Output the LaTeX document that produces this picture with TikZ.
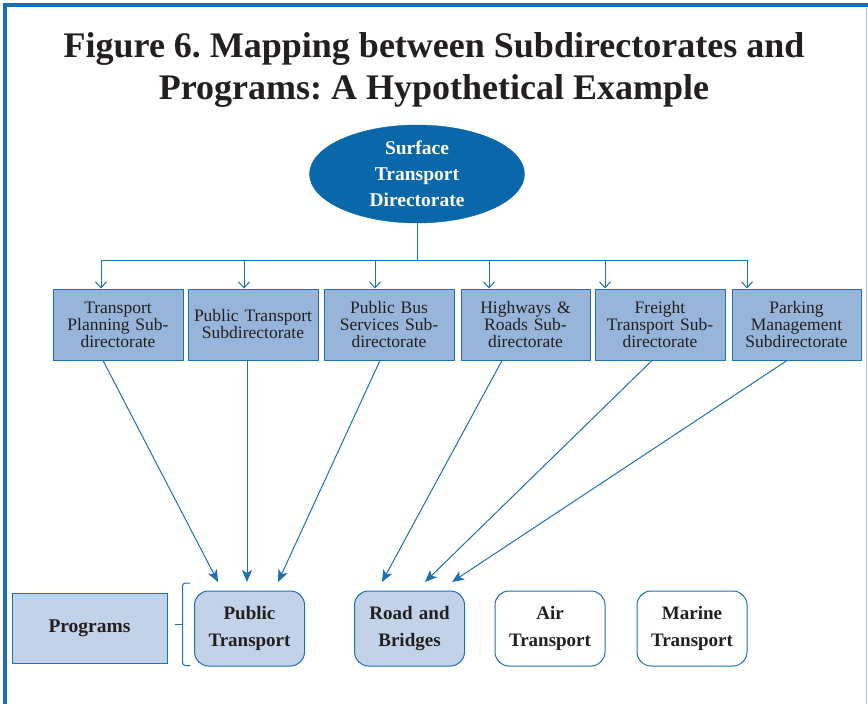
\documentclass[tikz,border=0pt]{standalone}
\usepackage{fontspec}
\setmainfont{Liberation Serif}
\newfontfamily\titlefont{Liberation Serif}
\usetikzlibrary{shapes.geometric,arrows.meta,calc}
\definecolor{frameblue}{HTML}{1A6FB0}
\definecolor{lineblue}{HTML}{1D70B2}
\definecolor{darkblue}{HTML}{0A68AA}
\definecolor{boxfill}{HTML}{97B5DA}
\definecolor{progfill}{HTML}{C2D2E8}
\definecolor{txt}{HTML}{231F20}
\definecolor{rightedge}{HTML}{A9C1D9}
\tikzset{
  subbox/.style={draw=lineblue, line width=1pt, fill=boxfill, minimum width=130pt, minimum height=71pt, text width=128pt, align=center, font=\fontsize{17.5}{17}\selectfont, text=txt, inner sep=0pt},
  progbox/.style={draw=lineblue, line width=1pt, rounded corners=14pt, minimum width=110pt, minimum height=75pt, text width=104pt, align=center, font=\fontsize{19}{27}\selectfont\bfseries, text=txt, inner sep=0pt},
  conn/.style={draw=lineblue, line width=1pt},
  downarr/.style={conn, -{Straight Barb[length=6pt,width=11pt,line width=1pt]}},
  maparr/.style={conn, -{Stealth[length=12pt,width=10pt,inset=3pt]}}
}
\frenchspacing
\begin{document}
\begin{tikzpicture}[x=1pt,y=-1pt]
\useasboundingbox (0,0) rectangle (868,704);
% frame
\draw[frameblue, line width=3.5pt] (5,704) -- (5,5) -- (868,5);
\draw[rightedge, line width=1.5pt] (866.5,8) -- (866.5,704);
% title
\node[text=txt, align=center, font=\titlefont\fontsize{36}{42}\selectfont\bfseries] (title) at (434,70) {Figure 6. Mapping between Subdirectorates and\\Programs: A Hypothetical Example};
% top directorate
\node[ellipse, fill=darkblue, draw=darkblue, minimum width=215pt, minimum height=98pt, inner sep=0pt, text=white, align=center, font=\fontsize{19.5}{26}\selectfont\bfseries] (dir) at (417,174) {Surface\\Transport\\Directorate};
% subdirectorates
\node[subbox] (s1) at (118,324.5) {Transport\\Planning Sub-\\directorate};
\node[subbox] (s2) at (253,324.5) {Public Transport\\Subdirectorate};
\node[subbox] (s3) at (389,324.5) {Public Bus\\Services Sub-\\directorate};
\node[subbox, minimum width=129pt] (s4) at (525.5,324.5) {Highways \&\\Roads Sub-\\directorate};
\node[subbox] (s5) at (660,324.5) {Freight\\Transport Sub-\\directorate};
\node[subbox, minimum width=129pt] (s6) at (796.5,324.5) {Parking\\Management\\Subdirectorate};
% bus
\coordinate (bus) at (417,260);
\coordinate (b1) at (101,260);
\coordinate (b2) at (244,260);
\coordinate (b3) at (375,260);
\coordinate (b4) at (489,260);
\coordinate (b5) at (605,260);
\coordinate (b6) at (747,260);
\draw[conn] (dir.south) -- (bus);
\draw[conn] (b1) -- (b6);
\draw[downarr] (b1) -- (b1 |- s1.north);
\draw[downarr] (b2) -- (b2 |- s2.north);
\draw[downarr] (b3) -- (b3 |- s3.north);
\draw[downarr] (b4) -- (b4 |- s4.north);
\draw[downarr] (b5) -- (b5 |- s5.north);
\draw[downarr] (b6) -- (b6 |- s6.north);
% programs
\node[draw=lineblue, line width=1pt, fill=progfill, minimum width=155pt, minimum height=70pt, inner sep=0pt, text=txt, font=\fontsize{19.5}{24}\selectfont\bfseries] (lab) at (89.5,628) {Programs};
\node[progbox, fill=progfill] (p1) at (249.5,628.5) {Public\\Transport};
\node[progbox, fill=progfill] (p2) at (409.5,628.5) {Road and\\Bridges};
\node[progbox, fill=white] (p3) at (550,628.5) {Air\\Transport};
\node[progbox, fill=white] (p4) at (692,628.5) {Marine\\Transport};
% brace
\coordinate (bt) at (190,583);
\coordinate (bb) at (190,665.5);
\coordinate (bm) at (175,624);
\draw[conn, rounded corners=3pt] (bt) -- (182.5,583) -- (182.5,665.5) -- (bb);
\draw[conn] (bm) -- (182.5,624);
% mapping arrows
\coordinate (t1) at (218,582);
\coordinate (t2) at (247,582);
\coordinate (t3) at (278,582);
\coordinate (t4) at (382,582);
\coordinate (t5) at (425,582);
\coordinate (t6) at (452,582);
\draw[maparr] ([xshift=-15pt]s1.south) -- (t1);
\draw[maparr] ([xshift=-6pt]s2.south) -- (t2);
\draw[maparr] ([xshift=-9pt]s3.south) -- (t3);
\draw[maparr] ([xshift=-23.5pt]s4.south) -- (t4);
\draw[maparr] ([xshift=-8pt]s5.south) -- (t5);
\draw[maparr] ([xshift=-9.5pt]s6.south) -- (t6);
\end{tikzpicture}
\end{document}
